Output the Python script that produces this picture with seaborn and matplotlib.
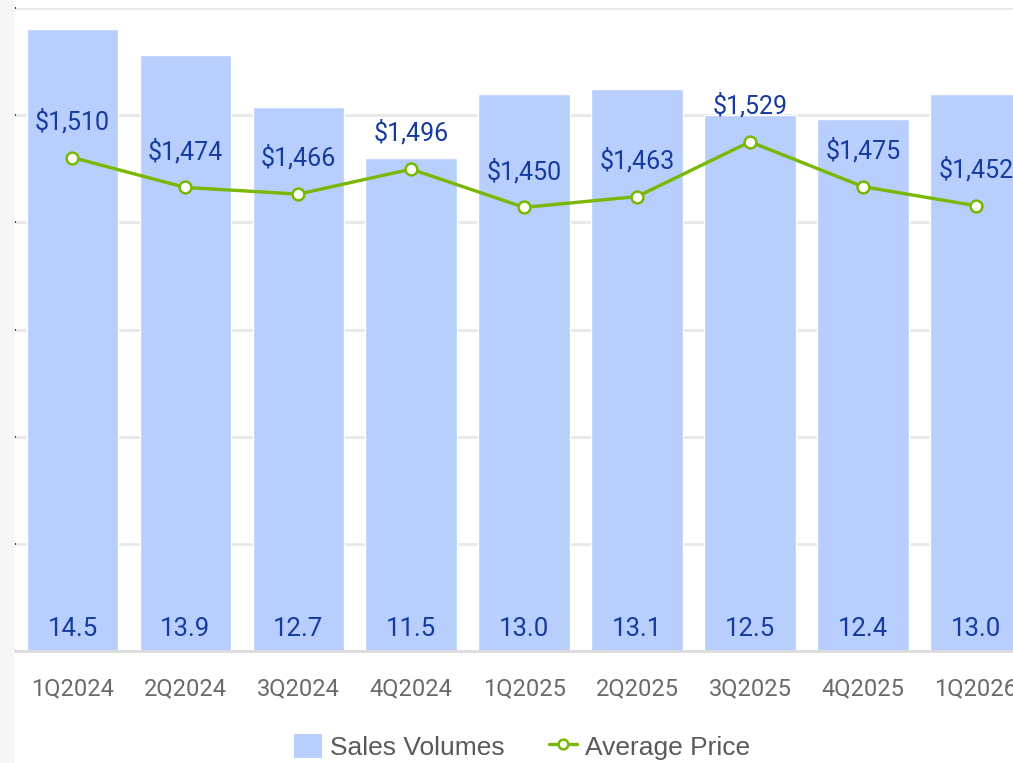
import matplotlib
matplotlib.use('Agg')
import matplotlib.pyplot as plt
import matplotlib.patches as mpatches
from matplotlib.lines import Line2D
import pandas as pd
import seaborn as sns

# 数据
quarters = ['1Q2024', '2Q2024', '3Q2024', '4Q2024', '1Q2025',
            '2Q2025', '3Q2025', '4Q2025', '1Q2026']
sales_volumes = [14.5, 13.9, 12.7, 11.5, 13.0, 13.1, 12.5, 12.4, 13.0]
avg_price = [1510, 1474, 1466, 1496, 1450, 1463, 1529, 1475, 1452]

bar_color = '#b8cefc'
line_color = '#78b800'
label_color = '#163b9e'
tick_color = '#6a6a6a'

sns.set_theme(style='white')
plt.rcParams['font.family'] = ['Roboto', 'DejaVu Sans']

df = pd.DataFrame({'Quarter': quarters, 'Sales Volumes': sales_volumes,
                   'Average Price': avg_price})

fig = plt.figure(figsize=(10.13, 7.63), dpi=100)
fig.patch.set_facecolor('white')
# 左侧灰色页面背景
fig.patches.append(mpatches.Rectangle((0, 0), 15 / 1013, 1, transform=fig.transFigure,
                                      facecolor='#f6f6f6', edgecolor='none', zorder=0))

ax = fig.add_axes([16 / 1013, 112 / 763, 997 / 1013, 643 / 763])
ax.set_facecolor('none')

sns.barplot(data=df, x='Quarter', y='Sales Volumes', ax=ax, color=bar_color,
            width=0.81, saturation=1, zorder=2)
ax.set_ylim(0, 15)
ax.set_yticks([0, 2.5, 5, 7.5, 10, 12.5, 15])
ax.yaxis.grid(True, color='#e8e8e8', linewidth=2, zorder=0)
ax.set_axisbelow(True)
ax.set_xlim(-0.5, 8.33)
ax.set_ylabel('')
ax.set_xlabel('')
ax.tick_params(axis='y', left=False, labelleft=False)
ax.tick_params(axis='x', bottom=False, labelsize=17, colors=tick_color, pad=13)
for s in ['top', 'right', 'left']:
    ax.spines[s].set_visible(False)
ax.spines['bottom'].set_color('#dcdcdc')
ax.spines['bottom'].set_linewidth(2)

for i, v in enumerate(sales_volumes):
    ax.annotate(f'{v:.1f}', xy=(i, 0), xytext=(0, 16), textcoords='offset points',
                ha='center', va='center', fontsize=18.5, color=label_color, zorder=5)

ax2 = ax.twinx()
sns.lineplot(data=df, x='Quarter', y='Average Price', ax=ax2, color=line_color,
             linewidth=2.4, marker='o', markersize=8.5, markerfacecolor='white',
             markeredgecolor=line_color, markeredgewidth=1.8, zorder=4)
ax2.set_ylim(916, 1690)
ax2.set_xlim(-0.5, 8.33)
ax2.set_ylabel('')
ax2.set_yticks([])
for s in ax2.spines.values():
    s.set_visible(False)

for i, v in enumerate(avg_price):
    ax2.annotate(f'${v:,}', xy=(i, v), xytext=(0, 26), textcoords='offset points',
                 ha='center', va='center', fontsize=18, color=label_color, zorder=5)

handles = [mpatches.Patch(facecolor=bar_color, edgecolor='none', label='Sales Volumes'),
           Line2D([0], [0], color=line_color, linewidth=2.4, marker='o', markersize=7,
                  markerfacecolor='white', markeredgecolor=line_color,
                  markeredgewidth=1.8, label='Average Price')]
leg = fig.legend(handles=handles, loc='center', bbox_to_anchor=(522 / 1013, 1 - 747 / 763),
                 ncol=2, frameon=False, prop={'family': 'Liberation Sans', 'size': 19},
                 handlelength=1.05, handleheight=1.05, handletextpad=0.3, columnspacing=1.7)
for t in leg.get_texts():
    t.set_color('#5a5a5a')

plt.savefig('out.png', dpi=100, facecolor='white')
